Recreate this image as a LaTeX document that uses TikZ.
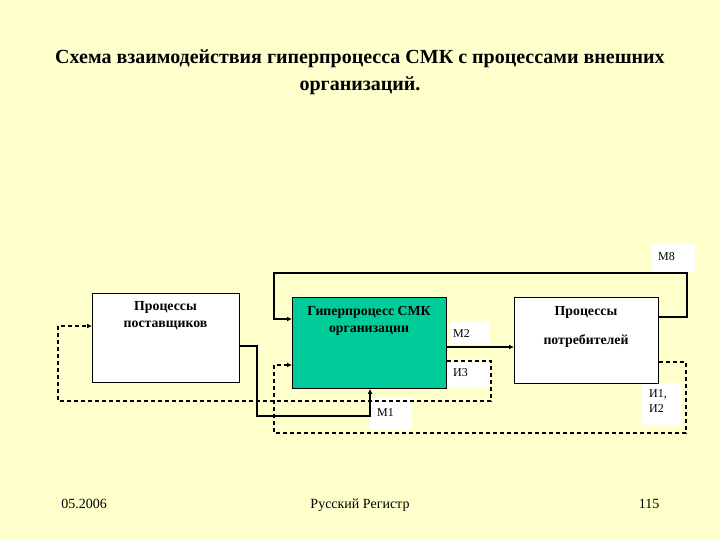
\documentclass[tikz,border=0pt]{standalone}
\usepackage{fontspec}
\setmainfont{Liberation Serif}
\usetikzlibrary{arrows.meta}
\definecolor{bg}{HTML}{FFFFCC}
\definecolor{smk}{HTML}{00CC99}
\tikzset{
  box/.style={draw=black, line width=0.9pt, fill=white, inner sep=0pt, anchor=north west},
  btext/.style={font=\fontsize{13.8}{15}\selectfont\bfseries, anchor=base, inner sep=0pt},
  lbl/.style={fill=white, inner sep=0pt, anchor=north west},
  ltext/.style={font=\fontsize{12}{14}\selectfont, anchor=base west, inner sep=0pt},
  solidline/.style={line width=2.8pt, -{Latex[length=5pt,width=5pt]}},
  dashline/.style={line width=1.1pt, dash pattern=on 4pt off 3pt, -{Latex[length=5pt,width=5pt]}},
  foot/.style={font=\fontsize{14}{16}\selectfont, anchor=base, inner sep=0pt},
  ttl/.style={font=\fontsize{20}{24}\selectfont\bfseries, anchor=base, inner sep=0pt}
}
\begin{document}
\begin{tikzpicture}[x=1pt,y=-1pt]
\fill[bg] (0,0) rectangle (720,540);
\useasboundingbox (0,0) rectangle (720,540);
% title
\node[ttl] (t1) at (360,64) {Схема взаимодействия гиперпроцесса СМК с процессами внешних};
\node[ttl] (t2) at (360,91) {организаций.};
% label backgrounds
\node[lbl, minimum width=43pt, minimum height=29pt] (m8b) at (652,243) {};
\node[lbl, minimum width=40pt, minimum height=22pt] (m2b) at (449,321) {};
\node[lbl, minimum width=44pt, minimum height=26pt] (i3b) at (446,361) {};
\node[lbl, minimum width=42pt, minimum height=32pt] (m1b) at (370,398) {};
\node[lbl, minimum width=40pt, minimum height=42pt] (i12b) at (642,383) {};
\node[ltext] (m8) at (658,260) {М8};
\node[ltext] (m2) at (453,337) {М2};
\node[ltext] (i3) at (453,376) {И3};
\node[ltext] (m1) at (377,416) {М1};
\node[ltext] (i12a) at (649,397) {И1,};
\node[ltext] (i12c) at (649,412) {И2};
% boxes
\node[box, minimum width=147pt, minimum height=89pt] (sup) at (92,293) {};
\node[box, fill=smk, minimum width=154pt, minimum height=91pt] (hyp) at (292,297) {};
\node[box, minimum width=144pt, minimum height=86pt] (cons) at (514,297) {};
\node[btext] (supa) at (165.5,310) {Процессы};
\node[btext] (supb) at (165.5,327) {поставщиков};
\node[btext] (hypa) at (369,315) {Гиперпроцесс СМК};
\node[btext] (hypb) at (369,332) {организации};
\node[btext] (consa) at (586,315) {Процессы};
\node[btext] (consb) at (586,344) {потребителей};
% connectors
\draw[solidline] ([yshift=-20pt]cons.north east) -- (687,317) -- (687,273) -- (274,273) -- (274,319) -- ([yshift=-22pt]hyp.north west);
\draw[solidline] ([yshift=-50pt]hyp.north east) -- ([yshift=-50pt]cons.north west);
\draw[solidline] ([yshift=-53pt]sup.north east) -- (257,346) -- (257,416) -- (370,416) -- (hyp.south -| 370,0);
\draw[dashline] ([yshift=-64pt]hyp.north east) -- (491,361) -- (491,401) -- (58,401) -- (58,326) -- ([yshift=-33pt]sup.north west);
\draw[dashline] ([yshift=-65pt]cons.north east) -- (686,362) -- (686,433) -- (274,433) -- (274,365) -- ([yshift=-68pt]hyp.north west);
% footer
\node[foot] (f1) at (84,508) {05.2006};
\node[foot] (f2) at (360,508) {Русский Регистр};
\node[foot] (f3) at (649,508) {115};
\end{tikzpicture}
\end{document}
